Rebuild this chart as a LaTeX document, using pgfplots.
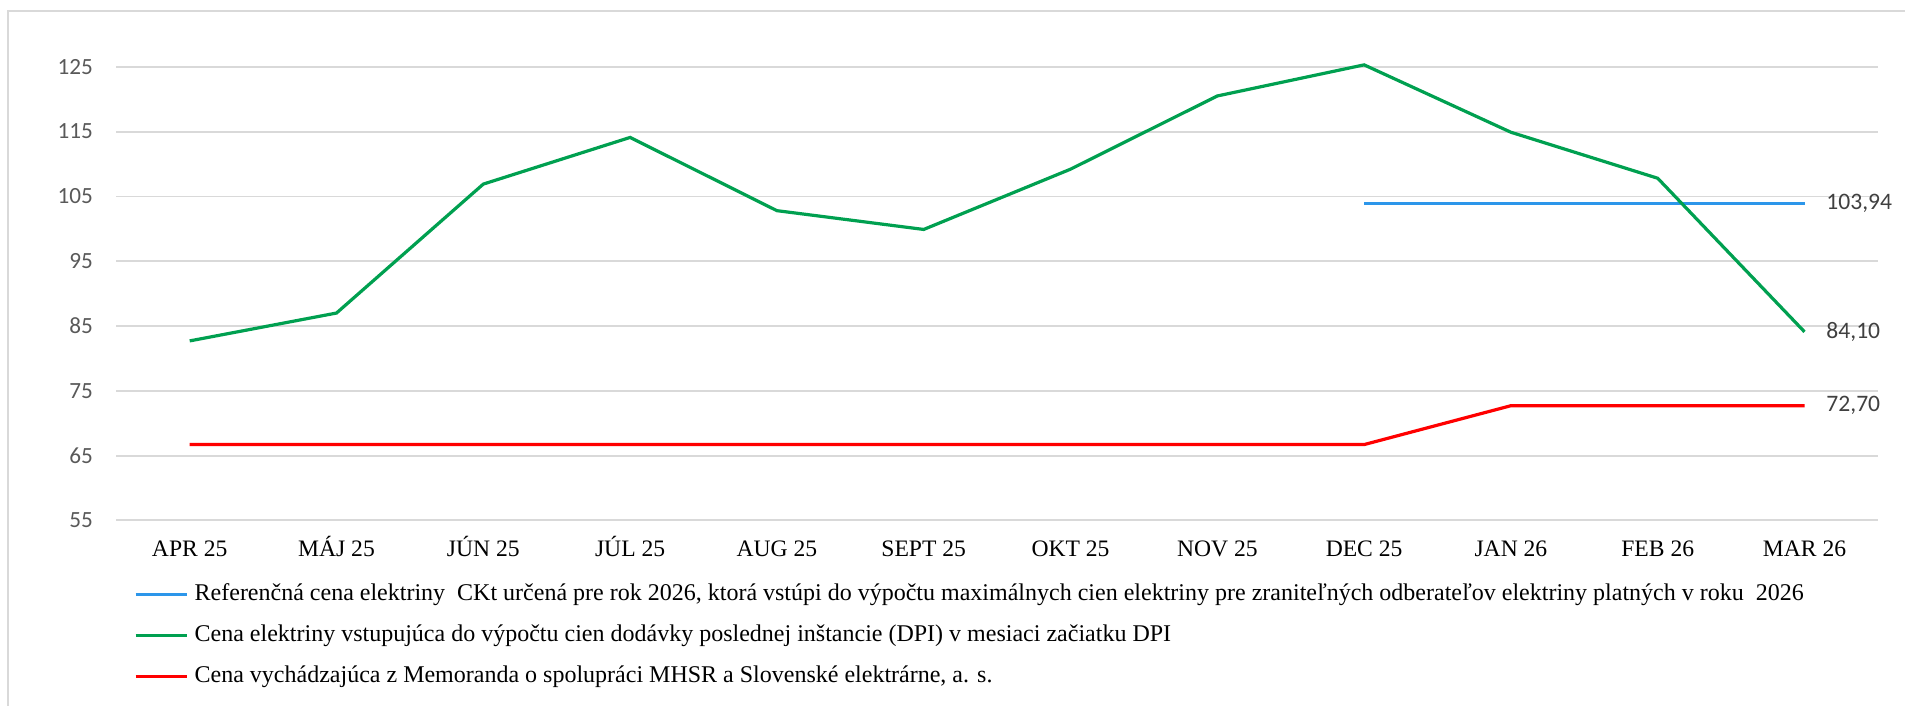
\documentclass[border=0pt]{standalone}
\usepackage{pgfplots}
\pgfplotsset{compat=1.18}
\usepackage{fontspec}
\setmainfont{Liberation Serif}
\newfontfamily\calibri{Carlito}
\definecolor{gridgray}{HTML}{D9D9D9}
\definecolor{lblgray}{HTML}{595959}
\definecolor{dlgray}{HTML}{404040}
\definecolor{cblue}{RGB}{44,150,234}
\definecolor{cgreen}{RGB}{0,160,80}
\definecolor{cred}{RGB}{255,0,0}
\begin{document}
\begin{tikzpicture}
\useasboundingbox (0,0) rectangle (952.5pt,353pt);
\draw[gridgray, line width=0.9pt] (4pt,0pt) -- (4pt,347.6pt) -- (952.5pt,347.6pt);
\begin{axis}[
  scale only axis,
  width=880.8pt, height=243pt,
  at={(58.15pt,92.8pt)}, anchor=south west,
  xmin=-0.5, xmax=11.5, ymin=55, ymax=130,
  axis line style={draw=none},
  major tick length=0pt,
  ytick={55,65,...,125},
  xtick={0,...,11},
  xticklabels={APR 25,MÁJ 25,JÚN 25,JÚL 25,AUG 25,SEPT 25,OKT 25,NOV 25,DEC 25,JAN 26,FEB 26,MAR 26},
  ymajorgrids,
  grid style={gridgray, line width=0.9pt},
  /pgf/number format/assume math mode=true,
  yticklabel style={font=\calibri\fontsize{11.6}{13}\selectfont, text=lblgray, anchor=east, inner sep=0pt, xshift=-11.5pt},
  xticklabel style={font=\fontsize{11.8}{13}\selectfont, text=black, anchor=base, inner sep=0pt, yshift=-18pt},
  legend cell align=left,
  legend style={draw=none, fill=none, inner sep=0pt, at={(0.00988,-0.1288)}, anchor=north west,
    font=\fontsize{12}{13}\selectfont, row sep=9.5pt,
    nodes={inner sep=0pt, text height=8.5pt, text depth=2.5pt},
    /tikz/every odd column/.append style={column sep=3.2pt}},
  legend image code/.code={\draw[#1] (0pt,0pt) -- (25.5pt,0pt);},
  clip=false,
]
\addplot[cblue, line width=1.6pt] coordinates {(8,103.94)(9,103.94)(10,103.94)(11,103.94)};
\addlegendentry{Referenčná cena elektriny\ \ CKt určená pre rok 2026, ktorá vstúpi do výpočtu maximálnych cien elektriny pre zraniteľných odberateľov elektriny platných v roku\ \ 2026}
\addplot[cgreen, line width=1.6pt] coordinates {(0,82.7)(1,87.0)(2,106.9)(3,114.1)(4,102.8)(5,99.9)(6,109.2)(7,120.5)(8,125.3)(9,114.9)(10,107.8)(11,84.1)};
\addlegendentry{Cena elektriny vstupujúca do výpočtu cien dodávky poslednej inštancie (DPI) v mesiaci začiatku DPI}
\addplot[cred, line width=1.6pt] coordinates {(0,66.7)(1,66.7)(2,66.7)(3,66.7)(4,66.7)(5,66.7)(6,66.7)(7,66.7)(8,66.7)(9,72.7)(10,72.7)(11,72.7)};
\addlegendentry{Cena vychádzajúca z Memoranda o spolupráci MHSR a Slovenské elektrárne, a. s.}
\node[anchor=west, xshift=10.75pt, inner sep=0pt, font=\calibri\fontsize{11.8}{13}\selectfont, text=dlgray] at (axis cs:11,103.94) {103,94};
\node[anchor=west, xshift=10.75pt, inner sep=0pt, font=\calibri\fontsize{11.8}{13}\selectfont, text=dlgray] at (axis cs:11,84.1) {84,10};
\node[anchor=west, xshift=10.75pt, inner sep=0pt, font=\calibri\fontsize{11.8}{13}\selectfont, text=dlgray] at (axis cs:11,72.7) {72,70};
\end{axis}
\end{tikzpicture}
\end{document}
